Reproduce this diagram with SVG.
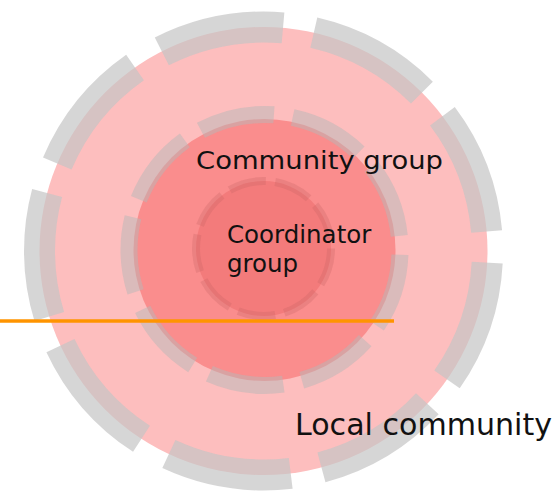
<svg xmlns="http://www.w3.org/2000/svg" width="559" height="491" viewBox="0 0 559 491">
<style>
.ring{stroke-dasharray:32 8}
.lbl{font-family:"DejaVu Sans","Verdana",sans-serif;fill:#111}
</style>
<rect width="559" height="491" fill="#fff"/>
<g id="local-community">
<circle class="ring" cx="263.5" cy="251" r="224" pathLength="360" stroke-dashoffset="-3" fill="#fdbebe" stroke="#c4c4c4" stroke-opacity="0.7" stroke-width="31"/>
<text class="lbl" x="295" y="435" font-size="29.8" textLength="257" lengthAdjust="spacingAndGlyphs">Local community</text>
</g>
<g id="community-group">
<circle cx="264.5" cy="250" r="131" fill="#fa8d8d"/>
<circle class="ring" cx="264.5" cy="250" r="135.5" pathLength="360" stroke-dashoffset="-2" fill="none" stroke="#b8b8b8" stroke-opacity="0.5" stroke-width="17"/>
<text class="lbl" x="196" y="169" font-size="24.3" textLength="247" lengthAdjust="spacingAndGlyphs">Community group</text>
</g>
<g id="coordinator-group">
<circle class="ring" cx="263.5" cy="248.5" r="67.5" pathLength="360" fill="#f37b7b" stroke="#c06060" stroke-opacity="0.25" stroke-width="8"/>
<text class="lbl" x="227" y="243" font-size="24.5">Coordinator</text>
<text class="lbl" x="227" y="272" font-size="24.5">group</text>
</g>
<g id="connectors">
<line x1="0" y1="321" x2="394" y2="321" stroke="#ff9400" stroke-width="3.6"/>
</g>
</svg>
